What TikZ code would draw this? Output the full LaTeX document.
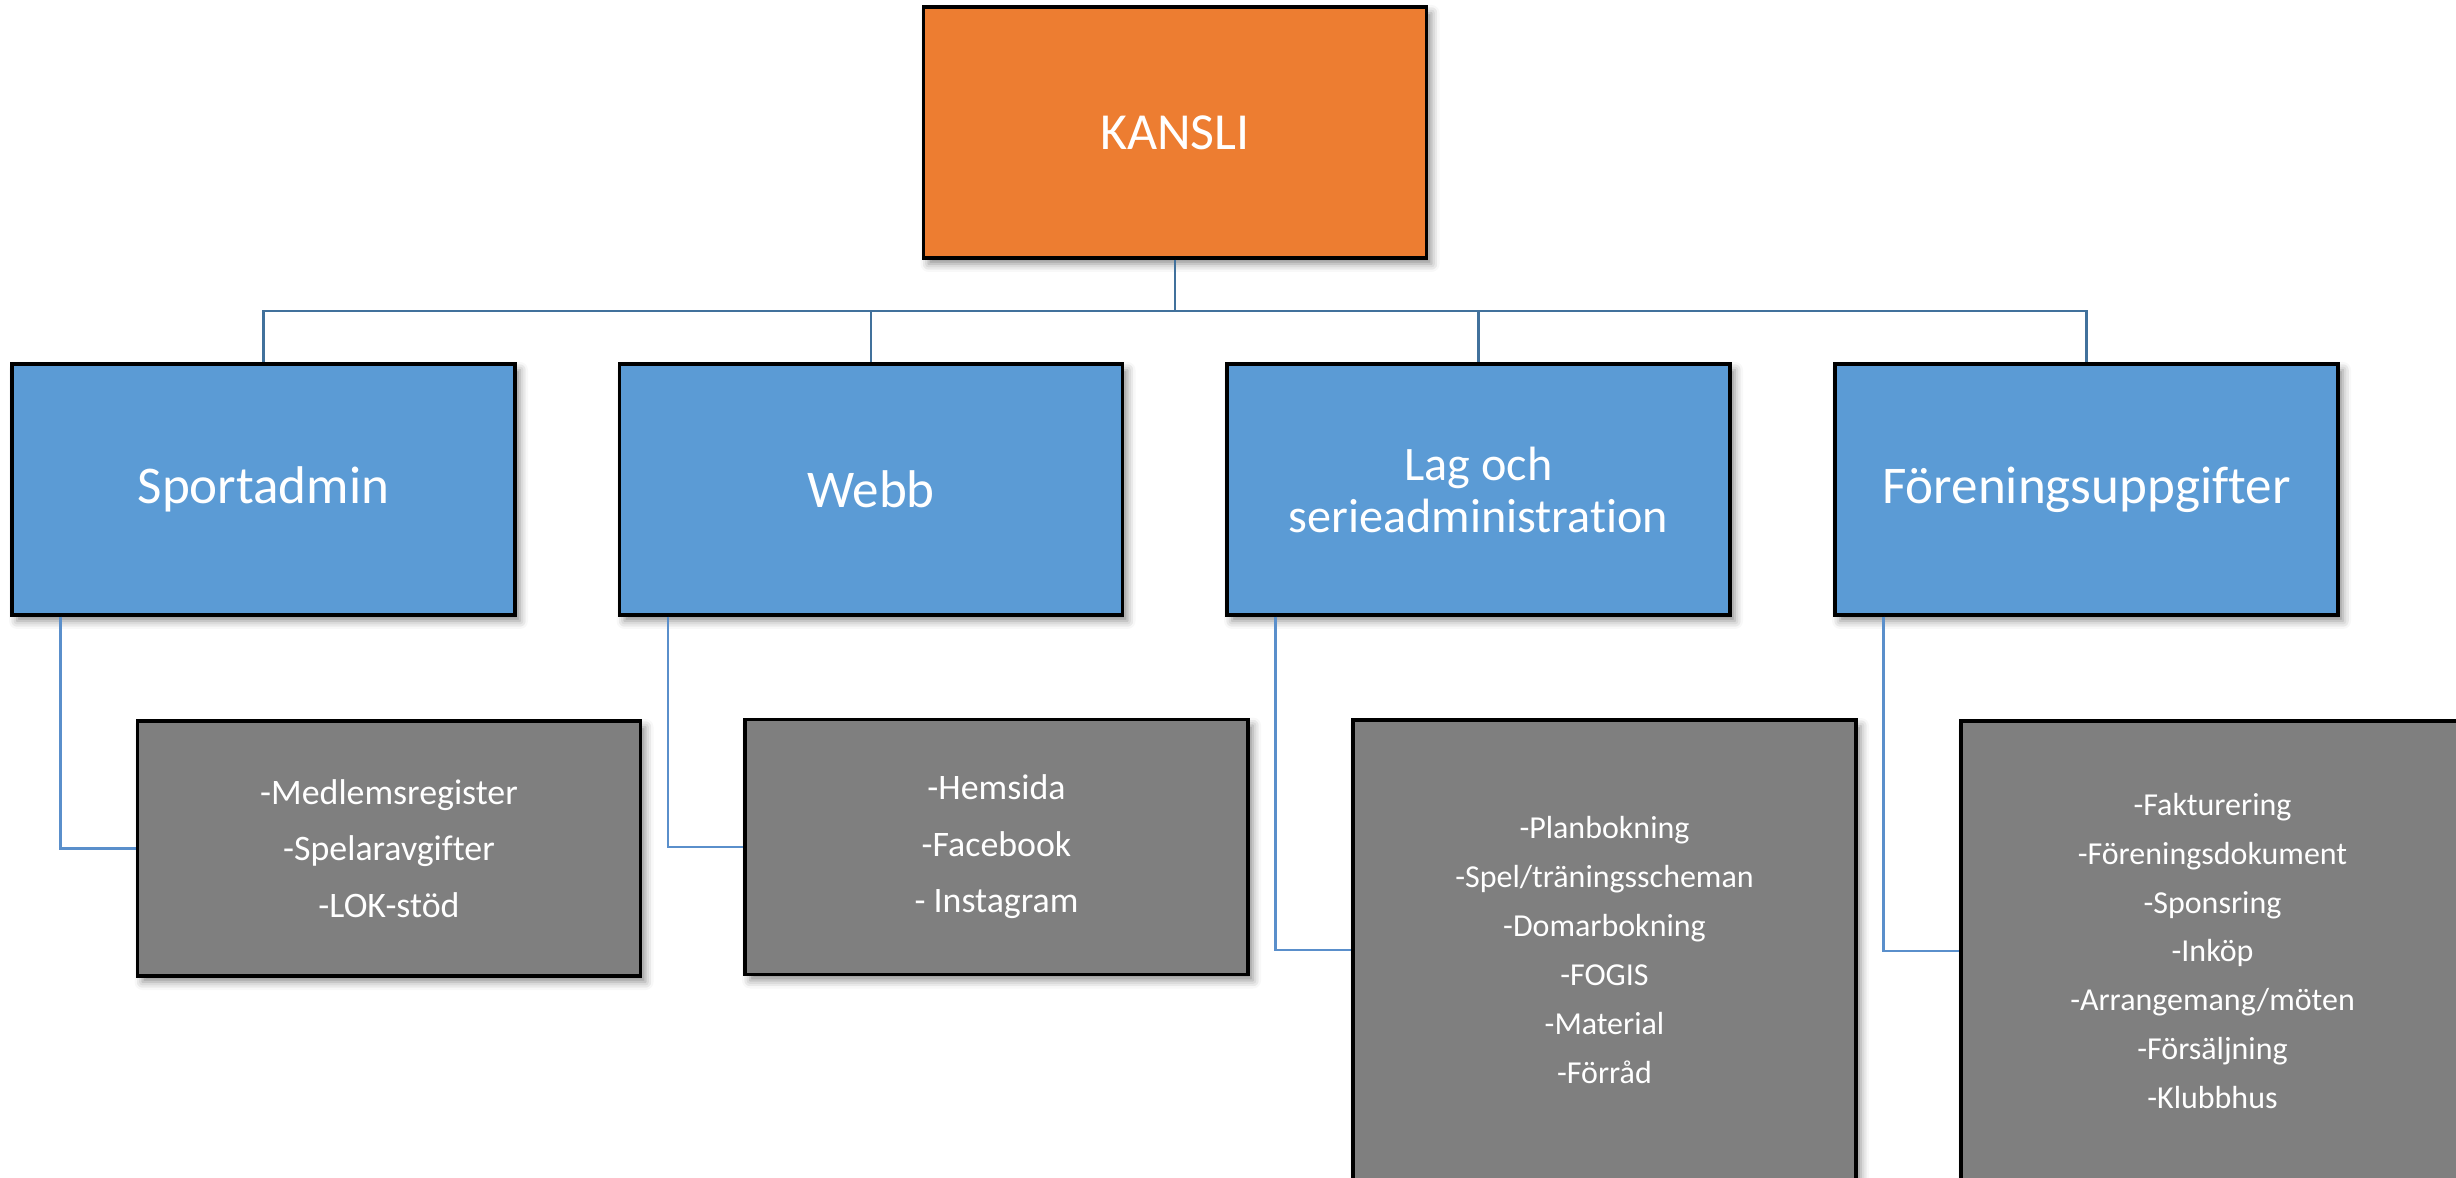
\documentclass[tikz,border=0pt]{standalone}
\usepackage{fontspec}
\setmainfont{Carlito}[Ligatures=NoCommon]
\usetikzlibrary{shadows.blur}
\definecolor{korange}{HTML}{ED7D31}
\definecolor{kblue}{HTML}{5B9BD5}
\definecolor{kgray}{HTML}{7F7F7F}
\definecolor{kline}{HTML}{41719C}
\definecolor{klinetwo}{HTML}{5A8FCB}
\tikzset{
 box/.style={draw=black, line width=0.9pt, minimum width=50.3mm, inner sep=0pt, text=white, align=center,
   blur shadow={shadow xshift=0.5mm, shadow yshift=-0.6mm, shadow blur radius=0.8mm, shadow opacity=45}},
 topbox/.style={box, fill=korange, minimum height=25.1mm, font=\fontsize{14.8}{18}\selectfont},
 midbox/.style={box, fill=kblue, minimum height=25.1mm, font=\fontsize{15.1}{18}\selectfont},
 subbox/.style={box, fill=kgray, font=\fontsize{10.2}{16.1}\selectfont},
 subboxsmall/.style={box, fill=kgray, font=\fontsize{9.1}{13.9}\selectfont},
 buslink/.style={draw=kline, line width=0.75pt},
 sublink/.style={draw=klinetwo, line width=0.75pt},
}
\begin{document}
\begin{tikzpicture}[x=0.1mm,y=-0.1mm]
\useasboundingbox (0,0) rectangle (2456,1178);
\clip (0,0) rectangle (2456,1178);
\coordinate (bus) at (0,311);

\node[topbox] (kansli) at (1175,132.5) {KANSLI};

\node[midbox] (s1) at (263.5,489.5) {Sportadmin};
\node[midbox] (s2) at (871,489.5) {Webb};
\node[midbox, font=\fontsize{13.7}{14.8}\selectfont] (s3) at (1478.5,489.5) {Lag och\\serieadministration};
\node[midbox] (s4) at (2086.5,489.5) {Föreningsuppgifter};

\node[subbox, minimum height=25.5mm] (g1) at (389,848.5) {-Medlemsregister\\-Spelaravgifter\\-LOK-stöd};
\node[subbox, minimum height=25.5mm] (g2) at (996.5,847) {-Hemsida\\-Facebook\\- Instagram};
\node[subboxsmall, minimum height=46mm] (g3) at (1604.5,950) {-Planbokning\\-Spel/träningsscheman\\-Domarbokning\\-FOGIS\\-Material\\-Förråd};
\node[subboxsmall, minimum height=46mm] (g4) at (2212.5,951) {-Fakturering\\-Föreningsdokument\\-Sponsring\\-Inköp\\-Arrangemang/möten\\-Försäljning\\-Klubbhus};

\draw[buslink] (kansli.south) -- (kansli.south|-bus);
\draw[buslink] (kansli.south|-bus) -| (s1.north);
\draw[buslink] (kansli.south|-bus) -| (s2.north);
\draw[buslink] (kansli.south|-bus) -| (s3.north);
\draw[buslink] (kansli.south|-bus) -| (s4.north);

\draw[sublink] ([xshift=5mm]s1.south west) |- (g1.west);
\draw[sublink] ([xshift=5mm]s2.south west) |- (g2.west);
\draw[sublink] ([xshift=5mm]s3.south west) |- (g3.west);
\draw[sublink] ([xshift=5mm]s4.south west) |- (g4.west);
\end{tikzpicture}
\end{document}
